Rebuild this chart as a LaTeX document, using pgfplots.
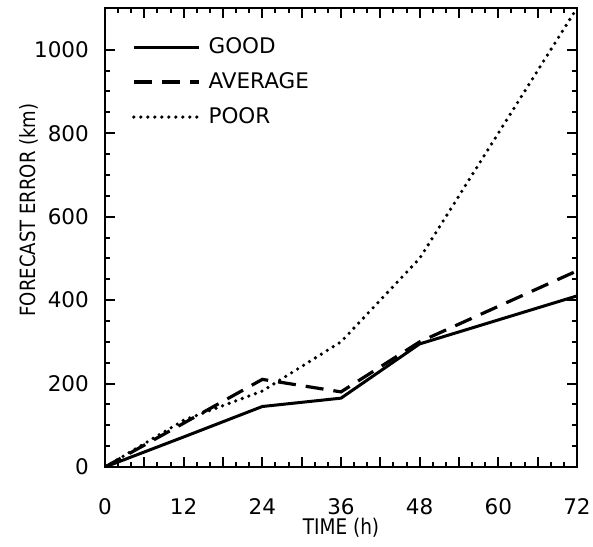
\documentclass[border=0pt]{standalone}
\usepackage{fontspec}
\setmainfont{DejaVu Sans}
\newfontfamily\condfont[FakeStretch=0.86]{DejaVu Sans}
\usepackage{pgfplots}
\pgfplotsset{compat=1.18}
\begin{document}
\begin{tikzpicture}
\begin{axis}[
  scale only axis, width=472pt, height=459pt,
  xmin=0, xmax=72, ymin=0, ymax=1100,
  axis line style={line width=2.8pt},
  xtick={0,6,...,72},
  xticklabels={0,,12,,24,,36,,48,,60,,72},
  minor x tick num=2,
  ytick={0,200,...,1000},
  minor y tick num=3,
  tick align=inside,
  major tick length=10pt, minor tick length=5pt,
  every tick/.style={black, line width=2pt},
  tick label style={font=\fontsize{21.5}{24}\selectfont},
  /pgf/number format/assume math mode=true,
  /pgf/number format/1000 sep={},
  yticklabel style={anchor=east, inner sep=0pt, xshift=-16pt},
  xticklabel style={anchor=north, inner sep=0pt, yshift=-31pt},
  xlabel={\condfont\fontsize{21.5}{24}\selectfont TIME (h)},
  xlabel style={at={(axis description cs:0.5,-0.132)}, anchor=center},
  ylabel={\condfont\fontsize{21}{24}\selectfont FORECAST ERROR (km)},
  ylabel style={at={(axis description cs:-0.162,0.56)}, anchor=center},
  legend style={at={(axis description cs:0.0572,0.9368)}, anchor=north west, draw=none, fill=none,
    inner sep=0pt, outer sep=0pt, row sep=15pt, column sep=8pt,
    font=\fontsize{21.5}{24}\selectfont,
    nodes={inner sep=0pt, text height=16pt, text depth=4pt}},
  legend cell align=left,
  legend image code/.code={\draw[#1] (0pt,0pt) -- (65pt,0pt);},
]
\addplot[black, line width=3pt, line join=round] coordinates {(0,0) (12,72) (24,145) (36,165) (48,295) (72,410)};
\addlegendentry{GOOD}
\addplot[black, line width=3.2pt, dash pattern=on 18pt off 10pt] coordinates {(0,0) (12,105) (24,210) (36,180) (48,300) (72,470)};
\addlegendentry{AVERAGE}
\addplot[black, line width=3.6pt, line cap=round, dash pattern=on 0pt off 7pt] coordinates {(0,0) (12,112) (24,182) (36,300) (48,500) (72,1100)};
\addlegendentry{POOR}
\end{axis}
\pgfresetboundingbox
\path ([xshift=-105pt,yshift=-79pt]current axis.south west) rectangle ([xshift=16pt,yshift=8pt]current axis.north east);
\end{tikzpicture}
\end{document}
